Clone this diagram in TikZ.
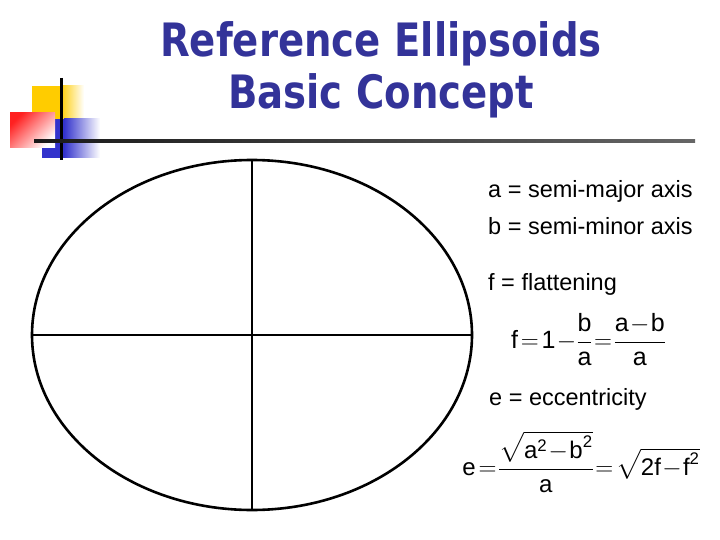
\documentclass[tikz,border=0pt]{standalone}
\usepackage{fontspec}
\usepackage{amsmath}
\setmainfont{Liberation Sans}
\newfontfamily\titlefont{DejaVu Sans}
\definecolor{titleblue}{HTML}{333399}
\definecolor{decoyellow}{HTML}{FFCC00}
\definecolor{decoblue}{HTML}{3333CC}
\definecolor{decored}{HTML}{FF2020}
\newcommand{\tx}[1]{\text{#1}}
\newcommand{\tightmath}{\medmuskip=1mu\thickmuskip=2mu\nulldelimiterspace=0pt}
\tikzset{
  axisline/.style={line width=2.6pt,black},
  bodytext/.style={anchor=base west,font=\fontsize{23.5}{28}\selectfont,inner sep=0pt},
  formula/.style={anchor=center,font=\fontsize{24}{28}\selectfont,inner sep=0pt},
  titletext/.style={font=\titlefont\bfseries\fontsize{46}{52}\selectfont,text=titleblue,anchor=base,xscale=0.84},
}
\begin{document}
\begin{tikzpicture}[x=1pt,y=-1pt]
\useasboundingbox (0,0) rectangle (720,540);
% decoration
\fill[decoyellow] (32,86) rectangle (60,119);
\shade[left color=decoyellow,right color=white] (60,86) rectangle (84,119);
\fill[decoblue] (42,119) rectangle (64,158);
\shade[left color=decoblue,right color=white] (64,119) rectangle (100,158);
\shade[shading=axis,top color=white,bottom color=decored,shading angle=225] (10,113) rectangle (55,148);
\draw[line width=3pt,black] (61,78) -- (61,160);
\shade[left color=black!90,right color=black!60] (34,139.5) rectangle (695,142.5);
% title
\node[titletext] (t1) at (381,57) {Reference Ellipsoids};
\node[titletext] (t2) at (381,109) {Basic Concept};
% ellipse
\draw[axisline] (252,335) ellipse [x radius=220,y radius=175];
\coordinate (top) at (252,160);
\coordinate (bot) at (252,510);
\coordinate (lft) at (32,335);
\coordinate (rgt) at (472,335);
\draw[axisline] (top) -- (bot);
\draw[axisline] (lft) -- (rgt);
% text
\node[bodytext] (la) at (488,197) {a = semi-major axis};
\node[bodytext] (lb) at (488,234) {b = semi-minor axis};
\node[bodytext] (lf) at (488,290) {f = flattening};
\node[formula,font=\fontsize{25}{30}\selectfont] (ff) at (588,340) {$\tightmath\tx{f}=\tx{1}-\dfrac{\tx{b}}{\tx{a}}=\dfrac{\tx{a}-\tx{b}}{\tx{a}}$};
\node[bodytext] (le) at (489,405) {e = eccentricity};
\node[formula] (fe) at (581,462) {$\tightmath\tx{e}=\dfrac{\sqrt{\tx{a}^{\tx{2}}-\tx{b}^{\tx{2}}}}{\tx{a}}=\sqrt{\tx{2f}-\tx{f}^{\tx{2}}}$};
\end{tikzpicture}
\end{document}
